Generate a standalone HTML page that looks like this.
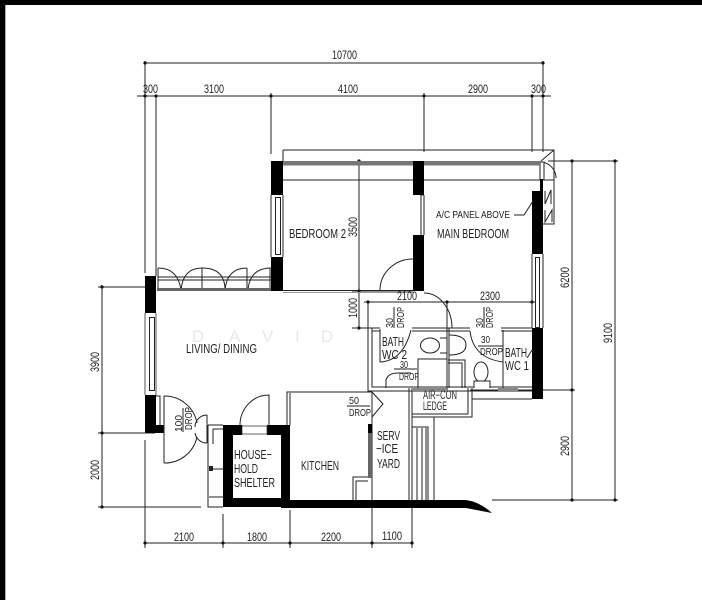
<!DOCTYPE html>
<html><head><meta charset="utf-8"><style>
html,body{margin:0;padding:0;background:#fff;width:702px;height:600px;overflow:hidden}
svg{display:block}
text{font-family:"Liberation Sans Narrow","Liberation Sans",sans-serif;fill:#222;font-size:11.5px}
.t{font-size:13px}
.s{font-size:10.5px}
#d{filter:blur(0.35px)}
</style></head><body>
<svg width="702" height="600" viewBox="0 0 702 600" xmlns="http://www.w3.org/2000/svg">
<rect width="702" height="600" fill="#fff"/>
<rect x="0" y="0" width="702" height="5" fill="#000"/>
<rect x="0" y="0" width="5" height="600" fill="#000"/>
<rect x="5" y="5" width="1" height="595" fill="#aaa"/>
<g id="d">
<!-- dimensions -->
<g stroke="#222" stroke-width="1" fill="none">
<path d="M145 63H543M137 96H551"/>
<path d="M145 61V273M156 96V276M271 93V154M424 93V152M532 96V152M543 61V152"/>
<path d="M548 161H618M572 161V500M615 161V500M470 390H575M492 500H618"/>
<path d="M98 287H145M102 285V507M98 433H155M98 507H201"/>
<path d="M145 440V548M223 514V548M290 510V548M372 507V548M412 507V548M145 543H412"/>
<path d="M359 161V328M352 291H413M352 328H368M368 302V328M364 302H536M447 302V328"/>
</g>
<g fill="#111">
<circle cx="145" cy="63" r="1.6"/><circle cx="543" cy="63" r="1.6"/>
<circle cx="145" cy="96" r="1.6"/><circle cx="156" cy="96" r="1.6"/><circle cx="271" cy="96" r="1.6"/><circle cx="424" cy="96" r="1.6"/><circle cx="532" cy="96" r="1.6"/><circle cx="543" cy="96" r="1.6"/>
<circle cx="359" cy="161" r="1.6"/><circle cx="359" cy="291" r="1.6"/><circle cx="359" cy="328" r="1.6"/>
<circle cx="572" cy="161" r="1.6"/><circle cx="615" cy="161" r="1.6"/><circle cx="572" cy="390" r="1.6"/><circle cx="572" cy="500" r="1.6"/><circle cx="615" cy="500" r="1.6"/>
<circle cx="102" cy="287" r="1.6"/><circle cx="102" cy="433" r="1.6"/><circle cx="102" cy="507" r="1.6"/>
<circle cx="145" cy="543" r="1.6"/><circle cx="223" cy="543" r="1.6"/><circle cx="290" cy="543" r="1.6"/><circle cx="372" cy="543" r="1.6"/><circle cx="412" cy="543" r="1.6"/>
<circle cx="368" cy="302" r="1.6"/><circle cx="447" cy="302" r="1.6"/><circle cx="532" cy="302" r="1.6"/>
</g>

<!-- upper structure -->
<g stroke="#222" stroke-width="1" fill="none">
<path d="M283 150H554V224H543M283 150V161M283 180H554"/>
<path d="M541 161L554 150M540 162A16 16 0 0 1 556 178"/>
<rect x="540" y="162" width="4" height="18" fill="#fff"/>
<path d="M545 191V204L551 190V204M545 210V222L552 210V222"/>
</g>
<rect x="283" y="161" width="257" height="4.5" fill="#777"/>
<!-- black walls -->
<g fill="#000">
<rect x="271" y="161" width="12" height="34"/>
<rect x="271" y="257" width="12" height="34"/>
<rect x="413" y="161" width="11" height="34"/>
<rect x="413" y="235" width="11" height="56"/>
<rect x="145" y="276" width="11" height="37"/>
<rect x="145" y="395" width="11" height="38"/>
<rect x="156" y="425" width="8" height="8"/>
<rect x="532" y="191" width="11" height="63"/>
<rect x="540" y="179" width="3" height="13"/>
<rect x="532" y="328" width="11" height="71"/>
</g>
<g stroke="#222" stroke-width="1" fill="none">
<!-- windows -->
<rect x="275.500" y="197.500" width="5" height="57"/>
<path d="M271 195V257M283 195V257"/>
<path d="M421 195V235M424 195V235M421 195H424"/>
<rect x="149.500" y="317.500" width="5" height="73"/>
<path d="M145 313V395M156 313V395" stroke="#555"/>
<rect x="535.500" y="257.500" width="4" height="70"/>
<path d="M532 254V328M543 254V328"/>
<!-- balcony -->
<path d="M158 268V290M202 268V290M247 268V290M270 268V290"/>
<path d="M158 277H271M158 280H271"/>
<path d="M158 268Q178 268 181 290M181 290Q183 268 202 268M202 268Q225 268 225 290M225 290Q227 268 247 268M248 290Q250 268 271 268"/>
<path d="M283 290.500H413"/>
<path d="M283 292.500H413" stroke="#999"/>
<!-- bedroom door -->
<path d="M413 259A33 31 0 0 0 380 290V291"/>
<path d="M424 293A28 35 0 0 1 452 328"/>
<!-- bathrooms -->
<path d="M368 328V391H532M372 328V387H532"/>
<path d="M368 328H380M372 331H380M412 328H470M412 331H470M501 328H532M501 331H532"/>
<path d="M447 328V388M449 328V388M503 330V388"/>
<path d="M380 329V362Q403 361 411 330"/>
<path d="M470 331Q473 358 503 362"/>
<path d="M418 388V359H447"/>
<path d="M448 360H465V388"/>
<path d="M448 363H462V388"/>
<ellipse cx="430" cy="345.500" rx="9.500" ry="7.500"/>
<path d="M440 338H447M440 353H447"/>
<path d="M449 335Q466 335 466 345Q466 355 449 355"/>
<ellipse cx="481" cy="372" rx="7" ry="10" fill="#fff"/>
<path d="M474 388V381H490V388" fill="#fff"/>
<path d="M386 388V380Q388 373 398 373H411"/>
<path d="M394 369H417"/>
<path d="M478 346H503"/>
<path d="M394 307V328M484 307V328M527 358L532 350"/>
<!-- ledge -->
<path d="M409 388V500M412 388V500"/>
<path d="M412 417H472V388M412 414H468V388"/>
<path d="M472 399H532"/>
<path d="M434 417V500"/>
<path d="M412 427H428V500M417 428V500M422 428V500M426 428V500"/>
<!-- kitchen -->
<path d="M287 425V392H372M290 425V393"/>
<path d="M372 392V500"/>
<path d="M372 392L383 404L372 417"/>
<path d="M353 500V477H368M356 500V481H368"/>
<path d="M347 406H370"/>
<!-- shelter door -->
<path d="M269 425V395A29 30 0 0 0 240 425"/>
<!-- entrance -->
<path d="M164 396V463"/>
<path d="M164 396A33 33 0 0 1 197 423M164 463A33 33 0 0 0 197 437"/>
<path d="M207 415V443M207 415A12 12 0 0 0 195 427M195 433A12 12 0 0 0 207 443"/>
<path d="M156 396H160V425"/>
<path d="M208 425V507H223M208 425H223M213 429H223M213 429V444M209 469H223M209 497H223"/>
<path d="M183 408V432"/>
</g>
<rect x="209" y="466" width="4" height="5" fill="#222"/>
<!-- grey sills -->
<rect x="412" y="388" width="36" height="3" fill="#888"/>
<rect x="498" y="388" width="20" height="3" fill="#888"/>
<rect x="157" y="288" width="114" height="3" fill="#666"/>
<rect x="368" y="424" width="4" height="54" fill="#666"/>
<rect x="368" y="424" width="4" height="9" fill="#000"/>
<!-- shelter walls -->
<path d="M223 425H242V435H233V498H281V435H267V425H290V507H223Z" fill="#000"/>
<rect x="242" y="426" width="25" height="8" fill="#fff" stroke="#222" stroke-width="0.7"/>
<!-- bottom wall -->
<path d="M281 500H466Q480 502 492 513L466 508H281Z" fill="#000"/>

<!-- watermark -->
<text x="192" y="342" style="font:17px 'Liberation Sans',sans-serif;fill:#e8e8e8">D</text>
<text x="229" y="342" style="font:17px 'Liberation Sans',sans-serif;fill:#e8e8e8">A</text>
<text x="262" y="342" style="font:17px 'Liberation Sans',sans-serif;fill:#e8e8e8">V</text>
<text x="295" y="342" style="font:17px 'Liberation Sans',sans-serif;fill:#e8e8e8">I</text>
<text x="321" y="342" style="font:17px 'Liberation Sans',sans-serif;fill:#e8e8e8">D</text>

<!-- labels -->
<text x="332" y="59" textLength="25" lengthAdjust="spacingAndGlyphs">10700</text>
<text x="143" y="93" textLength="15" lengthAdjust="spacingAndGlyphs">300</text>
<text x="204" y="93" textLength="20" lengthAdjust="spacingAndGlyphs">3100</text>
<text x="338" y="93" textLength="20" lengthAdjust="spacingAndGlyphs">4100</text>
<text x="468" y="93" textLength="20" lengthAdjust="spacingAndGlyphs">2900</text>
<text x="531" y="93" textLength="15" lengthAdjust="spacingAndGlyphs">300</text>
<text x="397" y="300" textLength="20" lengthAdjust="spacingAndGlyphs">2100</text>
<text x="480" y="300" textLength="20" lengthAdjust="spacingAndGlyphs">2300</text>
<text x="174" y="541" textLength="20" lengthAdjust="spacingAndGlyphs">2100</text>
<text x="247" y="541" textLength="20" lengthAdjust="spacingAndGlyphs">1800</text>
<text x="321" y="541" textLength="20" lengthAdjust="spacingAndGlyphs">2200</text>
<text x="382" y="540" textLength="20" lengthAdjust="spacingAndGlyphs">1100</text>

<text transform="translate(357,237) rotate(-90)" textLength="20" lengthAdjust="spacingAndGlyphs">3500</text>
<text transform="translate(357,318) rotate(-90)" textLength="20" lengthAdjust="spacingAndGlyphs">1000</text>
<text transform="translate(569,288) rotate(-90)" textLength="21" lengthAdjust="spacingAndGlyphs">6200</text>
<text transform="translate(612,343) rotate(-90)" textLength="20" lengthAdjust="spacingAndGlyphs">9100</text>
<text transform="translate(569,456) rotate(-90)" textLength="20" lengthAdjust="spacingAndGlyphs">2900</text>
<text transform="translate(99,372) rotate(-90)" textLength="20" lengthAdjust="spacingAndGlyphs">3900</text>
<text transform="translate(99,480) rotate(-90)" textLength="20" lengthAdjust="spacingAndGlyphs">2000</text>

<text class="t" x="289" y="238" textLength="57" lengthAdjust="spacingAndGlyphs">BEDROOM 2</text>
<text class="t" x="437" y="238" textLength="72" lengthAdjust="spacingAndGlyphs">MAIN BEDROOM</text>
<text class="s" x="436" y="218" textLength="74" lengthAdjust="spacingAndGlyphs">A/C PANEL ABOVE</text>
<path d="M514 215H524L533 201" fill="none" stroke="#222"/>
<text class="t" x="186" y="353" textLength="71" lengthAdjust="spacingAndGlyphs">LIVING/ DINING</text>
<text class="t" x="234" y="459" textLength="38" lengthAdjust="spacingAndGlyphs">HOUSE−</text>
<text class="t" x="234" y="473" textLength="24" lengthAdjust="spacingAndGlyphs">HOLD</text>
<text class="t" x="234" y="487" textLength="41" lengthAdjust="spacingAndGlyphs">SHELTER</text>
<text class="t" x="301" y="470" textLength="38" lengthAdjust="spacingAndGlyphs">KITCHEN</text>
<text class="t" x="377" y="440" textLength="23" lengthAdjust="spacingAndGlyphs">SERV</text>
<text class="t" x="376" y="453" textLength="22" lengthAdjust="spacingAndGlyphs">−ICE</text>
<text class="t" x="377" y="468" textLength="23" lengthAdjust="spacingAndGlyphs">YARD</text>
<text x="423" y="399" textLength="34" lengthAdjust="spacingAndGlyphs">AIR−CON</text>
<text x="423" y="410" textLength="24" lengthAdjust="spacingAndGlyphs">LEDGE</text>
<text class="t" x="382" y="346" textLength="22" lengthAdjust="spacingAndGlyphs">BATH</text>
<text class="t" x="382" y="359" textLength="25" lengthAdjust="spacingAndGlyphs">WC 2</text>
<text class="t" x="505" y="357" textLength="22" lengthAdjust="spacingAndGlyphs">BATH</text>
<text class="t" x="505" y="370" textLength="24" lengthAdjust="spacingAndGlyphs">WC 1</text>

<text class="s" x="349" y="404" textLength="10" lengthAdjust="spacingAndGlyphs">50</text>
<text class="s" x="349" y="416" textLength="22" lengthAdjust="spacingAndGlyphs">DROP</text>
<text class="s" x="400" y="368" textLength="8" lengthAdjust="spacingAndGlyphs">30</text>
<text class="s" x="399" y="380" textLength="20" lengthAdjust="spacingAndGlyphs">DROP</text>
<text class="s" x="481" y="343" textLength="9" lengthAdjust="spacingAndGlyphs">30</text>
<text class="s" x="480" y="355" textLength="23" lengthAdjust="spacingAndGlyphs">DROP</text>
<text class="s" transform="translate(393,328) rotate(-90)" textLength="10" lengthAdjust="spacingAndGlyphs">30</text>
<text class="s" transform="translate(404,328) rotate(-90)" textLength="21" lengthAdjust="spacingAndGlyphs">DROP</text>
<text class="s" transform="translate(483,328) rotate(-90)" textLength="10" lengthAdjust="spacingAndGlyphs">30</text>
<text class="s" transform="translate(493,328) rotate(-90)" textLength="21" lengthAdjust="spacingAndGlyphs">DROP</text>
<text class="s" transform="translate(182,432) rotate(-90)" textLength="17" lengthAdjust="spacingAndGlyphs">100</text>
<text class="s" transform="translate(192,430) rotate(-90)" textLength="23" lengthAdjust="spacingAndGlyphs">DROP</text>
</g>
</svg>
</body></html>
